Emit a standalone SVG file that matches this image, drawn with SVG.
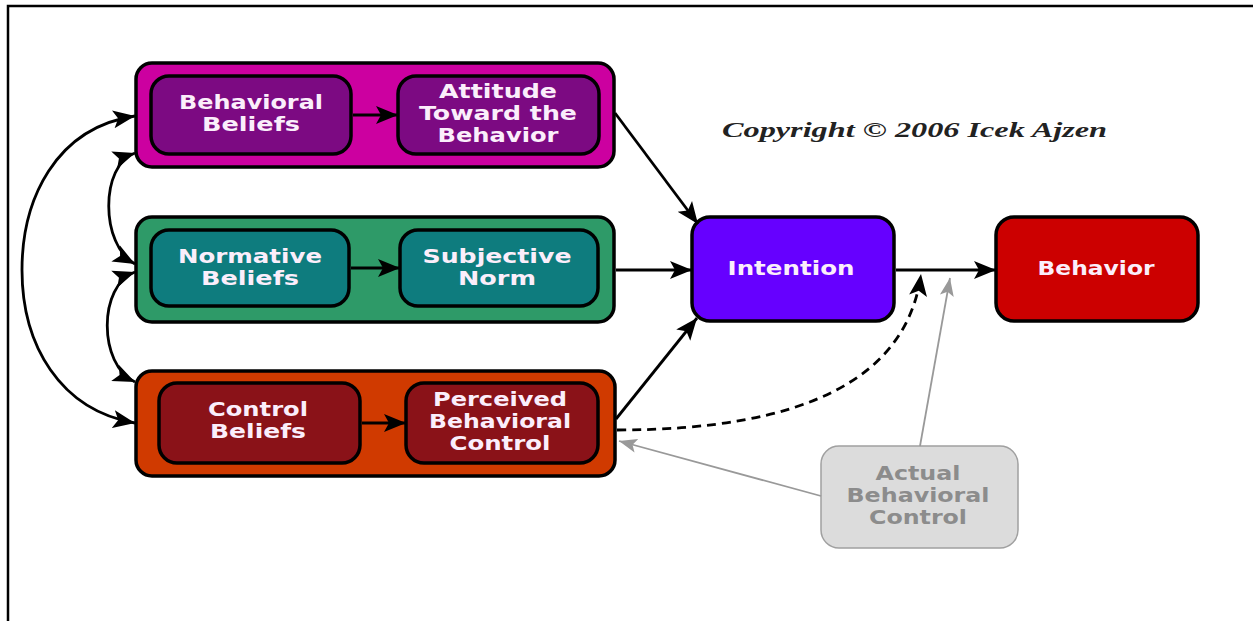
<svg xmlns="http://www.w3.org/2000/svg" width="1253" height="621" viewBox="0 0 1253 621">
<defs>
<style>
.outer{stroke:#000;stroke-width:3.5}
.inner{stroke:#000;stroke-width:3.5}
.t{font-family:"DejaVu Sans",sans-serif;font-weight:bold;font-size:19px;fill:#fbeefb;text-anchor:middle}
.g{font-family:"DejaVu Sans",sans-serif;font-weight:bold;font-size:19px;fill:#8c8c8c;text-anchor:middle}
.c{fill:none;stroke:#000;stroke-width:2.8}
.gl{fill:none;stroke:#999;stroke-width:1.8}
</style>
<marker id="ah" markerUnits="userSpaceOnUse" markerWidth="24" markerHeight="20" refX="22" refY="10" orient="auto-start-reverse" viewBox="0 0 24 20">
<path d="M0,1 L22,10 L0,19 L5,10 Z" fill="#000"/>
</marker>
<marker id="ahg" markerUnits="userSpaceOnUse" markerWidth="20" markerHeight="16" refX="18" refY="8" orient="auto" viewBox="0 0 20 16">
<path d="M0,1 L18,8 L0,15 L4,8 Z" fill="#999"/>
</marker>
</defs>
<rect width="1253" height="621" fill="#fff"/>
<path d="M8,621 V6 H1253" fill="none" stroke="#000" stroke-width="2.5"/>

<g id="attitude-group">
<rect class="outer" x="136" y="63" width="478" height="104" rx="16" fill="#cc00a0"/>
</g>
<g id="behavioral-beliefs">
<rect class="inner" x="151" y="76" width="200" height="78" rx="18" fill="#7c0a82"/>
<text class="t" x="251" y="109" textLength="144" lengthAdjust="spacingAndGlyphs">Behavioral</text>
<text class="t" x="251" y="131" textLength="98" lengthAdjust="spacingAndGlyphs">Beliefs</text>
</g>
<g id="attitude">
<rect class="inner" x="398" y="76" width="201" height="78" rx="18" fill="#7c0a82"/>
<text class="t" x="498" y="98" textLength="118" lengthAdjust="spacingAndGlyphs">Attitude</text>
<text class="t" x="498" y="120" textLength="158" lengthAdjust="spacingAndGlyphs">Toward the</text>
<text class="t" x="498" y="142" textLength="121" lengthAdjust="spacingAndGlyphs">Behavior</text>
</g>

<g id="norm-group">
<rect class="outer" x="136" y="217" width="478" height="105" rx="16" fill="#2e9a68"/>
</g>
<g id="normative-beliefs">
<rect class="inner" x="151" y="230" width="198" height="76" rx="18" fill="#0e7c7e"/>
<text class="t" x="250" y="263" textLength="144" lengthAdjust="spacingAndGlyphs">Normative</text>
<text class="t" x="250" y="285" textLength="98" lengthAdjust="spacingAndGlyphs">Beliefs</text>
</g>
<g id="subjective-norm">
<rect class="inner" x="400" y="230" width="198" height="76" rx="18" fill="#0e7c7e"/>
<text class="t" x="497" y="263" textLength="149" lengthAdjust="spacingAndGlyphs">Subjective</text>
<text class="t" x="497" y="285" textLength="78" lengthAdjust="spacingAndGlyphs">Norm</text>
</g>

<g id="control-group">
<rect class="outer" x="136" y="371" width="479" height="105" rx="16" fill="#d03a00"/>
</g>
<g id="control-beliefs">
<rect class="inner" x="159" y="383" width="201" height="80" rx="18" fill="#8a1218"/>
<text class="t" x="258" y="416" textLength="100" lengthAdjust="spacingAndGlyphs">Control</text>
<text class="t" x="258" y="438" textLength="96" lengthAdjust="spacingAndGlyphs">Beliefs</text>
</g>
<g id="perceived-control">
<rect class="inner" x="406" y="383" width="192" height="80" rx="18" fill="#8a1218"/>
<text class="t" x="500" y="406" textLength="134" lengthAdjust="spacingAndGlyphs">Perceived</text>
<text class="t" x="500" y="428" textLength="142" lengthAdjust="spacingAndGlyphs">Behavioral</text>
<text class="t" x="500" y="450" textLength="101" lengthAdjust="spacingAndGlyphs">Control</text>
</g>

<g id="intention">
<rect class="inner" x="692" y="217" width="202" height="104" rx="18" fill="#6600ff"/>
<text class="t" x="791" y="275" textLength="127" lengthAdjust="spacingAndGlyphs">Intention</text>
</g>
<g id="behavior">
<rect class="inner" x="996" y="217" width="202" height="104" rx="18" fill="#cc0000"/>
<text class="t" x="1096" y="275" textLength="117" lengthAdjust="spacingAndGlyphs">Behavior</text>
</g>
<g id="actual-control">
<rect x="821" y="446" width="197" height="102" rx="18" fill="#dcdcdc" stroke="#a0a0a0" stroke-width="1.5"/>
<text class="g" x="918" y="480" textLength="85" lengthAdjust="spacingAndGlyphs">Actual</text>
<text class="g" x="918" y="502" textLength="143" lengthAdjust="spacingAndGlyphs">Behavioral</text>
<text class="g" x="918" y="524" textLength="98" lengthAdjust="spacingAndGlyphs">Control</text>
</g>
<g id="copyright">
<text x="722" y="137" font-family="'Liberation Serif',serif" font-style="italic" font-weight="bold" font-size="22" fill="#222" textLength="385" lengthAdjust="spacingAndGlyphs">Copyright © 2006 Icek Ajzen</text>
</g>

<g id="connectors">
<path class="c" d="M353,115 H398" marker-end="url(#ah)"/>
<path class="c" d="M351,268 H400" marker-end="url(#ah)"/>
<path class="c" d="M362,423 H406" marker-end="url(#ah)"/>
<path class="c" d="M615,113 L698,224" marker-end="url(#ah)"/>
<path class="c" d="M616,270 H692" marker-end="url(#ah)"/>
<path class="c" d="M616,419 L697,318" marker-end="url(#ah)"/>
<path class="c" d="M896,270 H996" marker-end="url(#ah)"/>
<path class="c" d="M135,116 C55,128 22,200 22,270 C22,345 60,410 135,423" marker-start="url(#ah)" marker-end="url(#ah)"/>
<path class="c" d="M135,153 C100,165 100,245 135,264" marker-start="url(#ah)" marker-end="url(#ah)"/>
<path class="c" d="M135,272 C98,285 98,365 135,382" marker-start="url(#ah)" marker-end="url(#ah)"/>
<path class="c" d="M617,430 Q900,430 921,274" stroke-dasharray="9,6" stroke-width="3" marker-end="url(#ah)"/>
<path class="gl" d="M920,446 L950,278" marker-end="url(#ahg)"/>
<path class="gl" d="M821,496 L619,441" marker-end="url(#ahg)"/>
</g>
</svg>
